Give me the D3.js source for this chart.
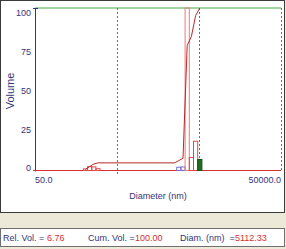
<!DOCTYPE html>
<html>
<head>
<meta charset="utf-8">
<script src="https://cdn.jsdelivr.net/npm/d3@7"></script>
<style>
  body { margin: 0; background: #ece9d8; }
  svg { display: block; font-family: "Liberation Sans", Arial, sans-serif; }
</style>
</head>
<body>
<div id="chart"></div>
<script>
// bin centre diameters (nm) and relative / cumulative volume
const binDiam = [206, 232, 261, 293, 2521, 2837, 3191, 3590, 4039, 4544, 5112.33];
const relVol = [1.0, 2.4, 2.2, 1.1, 0, 2.0, 2.2, 100, 8.0, 18.0, 6.76];
const cumVol = [0.7, 2.4, 4.0, 4.7, 4.7, 6.1, 7.5, 77.0, 82.5, 95.3, 100];
const xTickVals = [50, 50000];
const xTickLabels = ["50.0", "50000.0"];
const yTickVals = [0, 25, 50, 75, 100];
const decadeLines = [500, 5000, 50000];
const selected = 10;
const readout = { rel: "6.76", cum: "100.00", diam: "5112.33" };

const binRatio = 1.125;
const W = 286, H = 249;
const navy = "#34347a", red = "#d83030";

const svg = d3.select("#chart").append("svg")
    .attr("width", W)
    .attr("height", H);

svg.append("rect").attr("width", W).attr("height", H).attr("fill", "#ece9d8");

// white plot panel
svg.append("rect")
    .attr("x", 0.5).attr("y", 0.5)
    .attr("width", 284).attr("height", 212)
    .attr("fill", "#fff")
    .attr("stroke", "#3a3a3a");

const x = d3.scaleLog().domain([50, 50000]).range([35, 281]);
const y = d3.scaleLinear().domain([0, 100]).range([170.5, 8]);
// the tick labels sit on a slightly tighter spacing than the data
const yLab = d3.scaleLinear().domain([0, 100]).range([168, 12.7]);

// top border line (green)
svg.append("line")
    .attr("x1", x(50)).attr("x2", x(50000))
    .attr("y1", y(100)).attr("y2", y(100))
    .attr("stroke", "#45a845");

// decade dashed lines
svg.selectAll(".dec")
    .data(decadeLines)
    .enter().append("line")
    .attr("x1", d => Math.round(x(d)) + 0.5)
    .attr("x2", d => Math.round(x(d)) + 0.5)
    .attr("y1", y(100))
    .attr("y2", (d, i) => i === 0 ? 175 : 172)
    .attr("stroke", "#6a6aa0")
    .attr("stroke-dasharray", "2,2");

// y axis line
svg.append("line")
    .attr("x1", 35.5).attr("x2", 35.5)
    .attr("y1", y(100)).attr("y2", y(0) + 1)
    .attr("stroke", navy);
svg.append("line")
    .attr("x1", 33).attr("x2", 38)
    .attr("y1", y(100) + 0.5).attr("y2", y(100) + 0.5)
    .attr("stroke", navy);

const yAxis = svg.append("g")
    .attr("transform", "translate(35,0)")
    .call(d3.axisLeft(yLab).tickValues(yTickVals).tickSize(0).tickPadding(4));
yAxis.select(".domain").remove();
yAxis.selectAll("text")
    .attr("fill", navy)
    .style("font-size", "9px")
    .style("font-family", "'Liberation Sans', Arial, sans-serif");

// baseline
svg.append("line")
    .attr("x1", 33).attr("x2", x(50000))
    .attr("y1", y(0)).attr("y2", y(0))
    .attr("stroke", red);

// histogram bars
const bars = binDiam.map((d, i) => ({ d, v: relVol[i], i })).filter(b => b.v > 0);
svg.selectAll(".bar")
    .data(bars.filter(b => b.i !== selected))
    .enter().append("rect")
    .attr("x", b => x(b.d / Math.sqrt(binRatio)))
    .attr("width", b => x(b.d * Math.sqrt(binRatio)) - x(b.d / Math.sqrt(binRatio)))
    .attr("y", b => y(b.v))
    .attr("height", b => y(0) - y(b.v))
    .attr("fill", "none")
    .attr("stroke", b => (b.i === 5 || b.i === 6) ? "#7070d0" : (b.v > 50 ? "#f07878" : "#e04848"));

const sel = bars.find(b => b.i === selected);
svg.append("rect")
    .attr("x", x(sel.d / Math.sqrt(binRatio)))
    .attr("width", x(sel.d * Math.sqrt(binRatio)) - x(sel.d / Math.sqrt(binRatio)))
    .attr("y", y(sel.v))
    .attr("height", y(0) - y(sel.v))
    .attr("fill", "#1f6e1f")
    .attr("stroke", "#145214");

// cumulative curve
const line = d3.line()
    .x(d => x(d[0]))
    .y(d => y(d[1]));
svg.append("path")
    .datum(binDiam.map((d, i) => [d, cumVol[i]]))
    .attr("d", line)
    .attr("fill", "none")
    .attr("stroke", "#b82828")
    .attr("stroke-width", 1);

// x tick labels
svg.selectAll(".xl")
    .data(xTickVals)
    .enter().append("text")
    .attr("x", d => x(d))
    .attr("y", 183)
    .attr("text-anchor", (d, i) => i === 0 ? "start" : "end")
    .attr("fill", navy)
    .style("font-size", "9px")
    .text((d, i) => xTickLabels[i]);

// axis titles
svg.append("text")
    .attr("x", 158).attr("y", 198.5)
    .attr("text-anchor", "middle")
    .attr("fill", navy)
    .style("font-size", "9px")
    .text("Diameter (nm)");

svg.append("text")
    .attr("transform", "translate(13.5,91) rotate(-90)")
    .attr("text-anchor", "middle")
    .attr("fill", navy)
    .style("font-size", "11px")
    .text("Volume");

// readout box
svg.append("rect")
    .attr("x", 0.5).attr("y", 228.5)
    .attr("width", 284).attr("height", 18)
    .attr("fill", "#fff")
    .attr("stroke", "#6f6f6f");

const parts = [
    { x: 3, t: "Rel. Vol. =", c: navy },
    { x: 47, t: readout.rel, c: red },
    { x: 88, t: "Cum. Vol. =", c: navy },
    { x: 135, t: readout.cum, c: red },
    { x: 180, t: "Diam. (nm)  =", c: navy },
    { x: 235, t: readout.diam, c: red }
];
svg.selectAll(".ro")
    .data(parts)
    .enter().append("text")
    .attr("x", d => d.x)
    .attr("y", 241)
    .attr("fill", d => d.c)
    .style("font-size", "9px")
    .style("white-space", "pre")
    .text(d => d.t);
</script>
</body>
</html>
